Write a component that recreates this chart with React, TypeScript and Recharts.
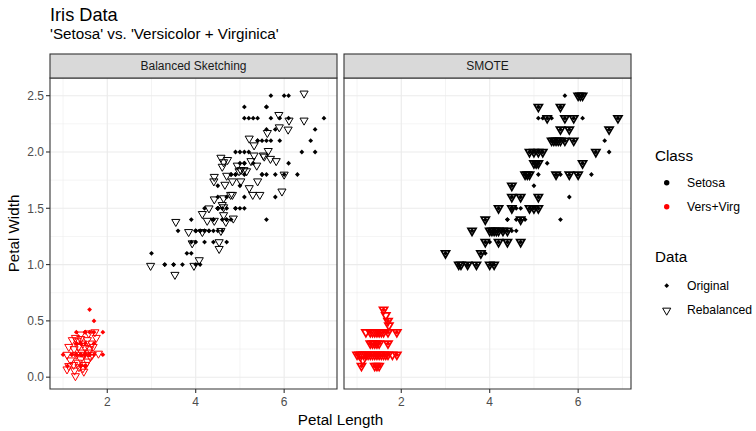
import { ScatterChart, Scatter, XAxis, YAxis, CartesianGrid, ReferenceArea } from 'recharts'

type Pt = [number, number]

const FONT = '"Liberation Sans", Arial, Helvetica, sans-serif'

const xDomain: [number, number] = [0.705, 7.195]
const yDomain: [number, number] = [-0.105, 2.657]
const xTicks = [2, 4, 6]
const xMinor = [1, 3, 5, 7]
const yTicks = [0, 0.5, 1, 1.5, 2, 2.5]
const yMinor = [0.25, 0.75, 1.25, 1.75, 2.25]

const panelTitles = ['Balanced Sketching', 'SMOTE']
const classLabels = ['Setosa', 'Vers+Virg']
const dataLabels = ['Original', 'Rebalanced']

// original observations: petal length, petal width
const origRed: Pt[] = [
  [1.4, 0.2], [1.4, 0.2], [1.3, 0.2], [1.5, 0.2], [1.4, 0.2], [1.7, 0.4], [1.4, 0.3], [1.5, 0.2], [1.4, 0.2], [1.5, 0.1],
  [1.5, 0.2], [1.6, 0.2], [1.4, 0.1], [1.1, 0.1], [1.2, 0.2], [1.5, 0.4], [1.3, 0.4], [1.4, 0.3], [1.7, 0.3], [1.5, 0.3],
  [1.7, 0.2], [1.5, 0.4], [1.0, 0.2], [1.7, 0.5], [1.9, 0.2], [1.6, 0.2], [1.6, 0.4], [1.5, 0.2], [1.4, 0.2], [1.6, 0.2],
  [1.6, 0.2], [1.5, 0.4], [1.5, 0.1], [1.4, 0.2], [1.5, 0.2], [1.2, 0.2], [1.3, 0.2], [1.4, 0.1], [1.3, 0.2], [1.5, 0.2],
  [1.3, 0.3], [1.3, 0.3], [1.3, 0.2], [1.6, 0.6], [1.9, 0.4], [1.4, 0.3], [1.6, 0.2], [1.4, 0.2], [1.5, 0.2], [1.4, 0.2],
]

const origBlack: Pt[] = [
  [4.7, 1.4], [4.5, 1.5], [4.9, 1.5], [4.0, 1.3], [4.6, 1.5], [4.5, 1.3], [4.7, 1.6], [3.3, 1.0], [4.6, 1.3], [3.9, 1.4],
  [3.5, 1.0], [4.2, 1.5], [4.0, 1.0], [4.7, 1.4], [3.6, 1.3], [4.4, 1.4], [4.5, 1.5], [4.1, 1.0], [4.5, 1.5], [3.9, 1.1],
  [4.8, 1.8], [4.0, 1.3], [4.9, 1.5], [4.7, 1.2], [4.3, 1.3], [4.4, 1.4], [4.8, 1.4], [5.0, 1.7], [4.5, 1.5], [3.5, 1.0],
  [3.8, 1.1], [3.7, 1.0], [3.9, 1.2], [5.1, 1.6], [4.5, 1.5], [4.5, 1.6], [4.7, 1.5], [4.4, 1.3], [4.1, 1.3], [4.0, 1.3],
  [4.4, 1.2], [4.6, 1.4], [4.0, 1.2], [3.3, 1.0], [4.2, 1.3], [4.2, 1.2], [4.2, 1.3], [4.3, 1.3], [3.0, 1.1], [4.1, 1.3],
  [6.0, 2.5], [5.1, 1.9], [5.9, 2.1], [5.6, 1.8], [5.8, 2.2], [6.6, 2.1], [4.5, 1.7], [6.3, 1.8], [5.8, 1.8], [6.1, 2.5],
  [5.1, 2.0], [5.3, 1.9], [5.5, 2.1], [5.0, 2.0], [5.1, 2.4], [5.3, 2.3], [5.5, 1.8], [6.7, 2.2], [6.9, 2.3], [5.0, 1.5],
  [5.7, 2.3], [4.9, 2.0], [6.7, 2.0], [4.9, 1.8], [5.7, 2.1], [6.0, 1.8], [4.8, 1.8], [4.9, 1.8], [5.6, 2.1], [5.8, 1.6],
  [6.1, 1.9], [6.4, 2.0], [5.6, 2.2], [5.1, 1.5], [5.6, 1.4], [6.1, 2.3], [5.6, 2.4], [5.5, 1.8], [5.4, 2.1], [5.4, 2.1],
  [5.6, 2.4], [5.1, 2.3], [5.1, 1.9], [5.9, 2.3], [5.7, 2.5], [5.2, 2.3], [5.0, 1.9], [5.2, 2.0], [5.4, 2.3], [5.1, 1.8],
]

// rebalanced points, balanced sketching
const sketchRed: Pt[] = [
  [1.28, 0.01], [1.09, 0.07], [1.13, 0.1], [1.47, 0.05], [1.45, 0.08], [1.51, 0.11], [1.24, 0.11], [1.33, 0.13],
  [1.17, 0.15], [1.4, 0.16], [1.55, 0.14], [1.62, 0.18], [1.09, 0.2], [1.3, 0.2], [1.42, 0.22], [1.66, 0.2],
  [1.8, 0.21], [1.25, 0.25], [1.35, 0.27], [1.5, 0.26], [1.6, 0.25], [1.13, 0.27], [1.21, 0.33], [1.32, 0.32],
  [1.45, 0.3], [1.55, 0.33], [1.65, 0.3], [1.28, 0.35], [1.4, 0.38], [1.58, 0.39], [1.72, 0.4], [1.75, 0.35],
  [1.48, 0.2], [1.58, 0.22], [1.36, 0.09], [1.26, 0.06], [1.68, 0.27], [1.4, 0.34],
]

const sketchBlack: Pt[] = [
  [6.45, 2.52], [5.88, 2.33], [6.11, 2.28], [6.45, 2.28], [5.89, 2.22], [6.09, 2.2], [5.62, 2.17], [5.21, 2.12],
  [5.32, 2.06], [5.64, 2.01], [5.53, 1.97], [5.32, 1.97], [5.69, 1.94], [5.82, 1.92], [5.25, 1.92], [4.57, 1.95],
  [4.63, 1.91], [4.72, 1.93], [4.6, 1.87], [4.94, 1.88], [5.02, 1.84], [5.15, 1.83], [5.38, 1.88], [6.0, 1.8],
  [4.42, 1.78], [4.41, 1.74], [4.7, 1.79], [4.83, 1.74], [4.66, 1.71], [5.02, 1.74], [5.21, 1.68], [5.4, 1.74],
  [5.29, 1.62], [5.45, 1.62], [5.95, 1.65], [4.42, 1.58], [4.63, 1.59], [4.83, 1.62], [4.3, 1.5], [4.63, 1.51],
  [4.15, 1.45], [4.63, 1.44], [4.85, 1.41], [4.26, 1.39], [4.42, 1.39], [4.68, 1.38], [3.55, 1.38], [3.84, 1.29],
  [4.15, 1.29], [4.57, 1.3], [3.92, 1.19], [4.53, 1.2], [4.53, 1.14], [4.08, 1.04], [3.96, 0.99], [2.98, 0.99],
  [3.53, 0.91], [5.55, 1.96], [5.09, 1.84], [4.98, 1.83], [4.6, 1.53], [4.79, 1.62],
]

// rebalanced points, SMOTE
const smoteRed: Pt[] = [
  [1.6, 0.6], [1.65, 0.55], [1.7, 0.5], [1.72, 0.46], [1.2, 0.4], [1.3, 0.4], [1.35, 0.4], [1.4, 0.4], [1.45, 0.4],
  [1.5, 0.4], [1.55, 0.4], [1.6, 0.4], [1.7, 0.4], [1.9, 0.4], [1.3, 0.3], [1.35, 0.3], [1.4, 0.3], [1.45, 0.3],
  [1.5, 0.3], [1.7, 0.3], [1.0, 0.2], [1.05, 0.2], [1.1, 0.2], [1.15, 0.2], [1.2, 0.2], [1.25, 0.2], [1.3, 0.2],
  [1.35, 0.2], [1.4, 0.2], [1.45, 0.2], [1.5, 0.2], [1.55, 0.2], [1.6, 0.2], [1.65, 0.2], [1.7, 0.2], [1.8, 0.2],
  [1.9, 0.2], [1.13, 0.15], [1.1, 0.1], [1.4, 0.1], [1.45, 0.1], [1.5, 0.1],
]

const smoteBlack: Pt[] = [
  [6.0, 2.5], [6.05, 2.5], [6.1, 2.5], [5.1, 2.4], [5.6, 2.4], [5.3, 2.3], [5.7, 2.3], [5.9, 2.3], [6.9, 2.3],
  [5.6, 2.2], [5.8, 2.2], [6.7, 2.2], [5.4, 2.1], [5.45, 2.1], [5.5, 2.1], [5.55, 2.1], [5.6, 2.1], [5.7, 2.1],
  [5.9, 2.1], [6.4, 2.0], [4.9, 2.0], [5.0, 2.0], [5.1, 2.0], [5.2, 2.0], [5.0, 1.9], [5.05, 1.9], [5.1, 1.9],
  [6.1, 1.9], [4.8, 1.8], [4.85, 1.8], [4.9, 1.8], [5.5, 1.8], [5.8, 1.8], [6.0, 1.8], [4.5, 1.7], [4.5, 1.6],
  [4.7, 1.6], [5.1, 1.6], [4.2, 1.5], [4.5, 1.5], [4.9, 1.5], [5.0, 1.5], [5.1, 1.5], [3.9, 1.4], [4.7, 1.4],
  [3.6, 1.3], [4.0, 1.3], [4.05, 1.3], [4.1, 1.3], [4.15, 1.3], [4.2, 1.3], [4.3, 1.3], [4.4, 1.3], [3.9, 1.2],
  [4.2, 1.2], [4.4, 1.2], [4.7, 1.2], [3.0, 1.1], [3.8, 1.1], [3.3, 1.0], [3.35, 1.0], [3.5, 1.0], [3.7, 1.0],
  [4.0, 1.0], [4.1, 1.0],
]

const toRows = (pts: Pt[]) => pts.map(([x, y]) => ({ x, y }))

const diamondPts = (cx: number, cy: number, r = 2.4) =>
  `${cx},${cy - r} ${cx + r},${cy} ${cx},${cy + r} ${cx - r},${cy}`

const triPts = (cx: number, cy: number, r = 4.7) =>
  `${cx - r * 0.866},${cy - r / 2} ${cx + r * 0.866},${cy - r / 2} ${cx},${cy + r}`

const diamond = (color: string) => (p: any) => (
  <polygon points={diamondPts(p.cx, p.cy)} fill={color} />
)

const triangle = (color: string, sw: number) => (p: any) => (
  <polygon points={triPts(p.cx, p.cy)} fill="none" stroke={color} strokeWidth={sw} />
)

const tickStyle = { fill: '#4d4d4d', fontSize: 12, fontFamily: FONT }

function Panel({ left, width, margin, showY, rebRed, rebBlack, triWidth }: {
  left: number
  width: number
  margin: { top: number; right: number; bottom: number; left: number }
  showY: boolean
  rebRed: Pt[]
  rebBlack: Pt[]
  triWidth: number
}) {
  return (
    <div style={{ position: 'absolute', left, top: 0 }}>
      <ScatterChart width={width} height={431} margin={margin}>
        <CartesianGrid stroke="#ebebeb" strokeWidth={0.55} verticalValues={xMinor} horizontalValues={yMinor} />
        <CartesianGrid stroke="#ebebeb" strokeWidth={1.1} verticalValues={xTicks} horizontalValues={yTicks} />
        <XAxis
          type="number"
          dataKey="x"
          domain={xDomain}
          ticks={xTicks}
          interval={0}
          allowDataOverflow
          axisLine={false}
          tickLine={{ stroke: '#333333', strokeWidth: 1.1 }}
          tickSize={4}
          tickMargin={4}
          tick={tickStyle}
          height={20}
        />
        <YAxis
          type="number"
          dataKey="y"
          domain={yDomain}
          ticks={yTicks}
          interval={0}
          allowDataOverflow
          hide={!showY}
          axisLine={false}
          tickLine={{ stroke: '#333333', strokeWidth: 1.1 }}
          tickSize={4}
          tick={tickStyle}
          tickFormatter={(v: number) => v.toFixed(1)}
          width={50}
        />
        <ReferenceArea
          x1={xDomain[0]} x2={xDomain[1]} y1={yDomain[0]} y2={yDomain[1]}
          ifOverflow="visible" fill="none" fillOpacity={0} stroke="#333333" strokeWidth={1.1}
        />
        <Scatter data={toRows(origBlack)} shape={diamond('#000000')} isAnimationActive={false} />
        <Scatter data={toRows(origRed)} shape={diamond('#ff0000')} isAnimationActive={false} />
        <Scatter data={toRows(rebBlack)} shape={triangle('#000000', triWidth)} isAnimationActive={false} />
        <Scatter data={toRows(rebRed)} shape={triangle('#ff0000', triWidth)} isAnimationActive={false} />
      </ScatterChart>
    </div>
  )
}

export default function App() {
  const strips = [
    { x: 50, w: 287 },
    { x: 344, w: 287 },
  ]
  return (
    <div style={{ position: 'absolute', left: 0, top: 0, width: 756, height: 431, background: '#fff', fontFamily: FONT }}>
      <Panel left={0} width={341} margin={{ top: 78, right: 4, bottom: 22, left: 0 }} showY rebRed={sketchRed} rebBlack={sketchBlack} triWidth={1} />
      <Panel left={340} width={295} margin={{ top: 78, right: 4, bottom: 22, left: 4 }} showY={false} rebRed={smoteRed} rebBlack={smoteBlack} triWidth={1.7} />
      <svg width={756} height={431} style={{ position: 'absolute', left: 0, top: 0, pointerEvents: 'none' }} fontFamily={FONT}>
        <text x={50} y={21.3} fontSize={18.2} fill="#000">Iris Data</text>
        <text x={50} y={39.2} fontSize={15.2} fill="#000">'Setosa' vs. 'Versicolor + Virginica'</text>

        {strips.map((s, i) => (
          <g key={i}>
            <rect x={s.x} y={54} width={s.w} height={24} fill="#d9d9d9" stroke="#333333" strokeWidth={1.1} />
            <text x={s.x + s.w / 2} y={70.3} fontSize={12} fill="#1a1a1a" textAnchor="middle">{panelTitles[i]}</text>
          </g>
        ))}

        <text x={340.5} y={424.5} fontSize={15.2} fill="#000" textAnchor="middle">Petal Length</text>
        <text x={19.4} y={233.5} fontSize={15.2} fill="#000" textAnchor="middle" transform="rotate(-90, 19.4, 233.5)">Petal Width</text>

        <text x={655} y={161} fontSize={15.2} fill="#000">Class</text>
        <circle cx={666.7} cy={182.7} r={2.7} fill="#000000" />
        <text x={687} y={186.9} fontSize={12.2} fill="#000">{classLabels[0]}</text>
        <circle cx={666.7} cy={206.7} r={2.7} fill="#ff0000" />
        <text x={687} y={210.9} fontSize={12.2} fill="#000">{classLabels[1]}</text>

        <text x={655} y={262} fontSize={15.2} fill="#000">Data</text>
        <polygon points={diamondPts(666.7, 285.7)} fill="#000" />
        <text x={687} y={290} fontSize={12.2} fill="#000">{dataLabels[0]}</text>
        <polygon points={triPts(666.7, 310.5)} fill="none" stroke="#000" strokeWidth={1} />
        <text x={687} y={314.2} fontSize={12.2} fill="#000">{dataLabels[1]}</text>
      </svg>
    </div>
  )
}
